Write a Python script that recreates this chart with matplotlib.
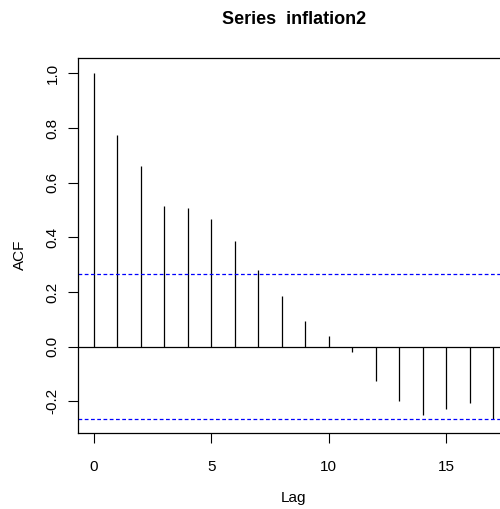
import matplotlib
matplotlib.use("Agg")
import matplotlib.pyplot as plt

plt.rcParams['font.family'] = ['Liberation Sans', 'DejaVu Sans']

# Sample autocorrelations of inflation2 by lag
lags = [0, 1, 2, 3, 4, 5, 6, 7, 8, 9, 10, 11, 12, 13, 14, 15, 16, 17]
acf = [1.0, 0.774, 0.662, 0.515, 0.506, 0.466, 0.387, 0.281, 0.185, 0.094,
       0.039, -0.018, -0.125, -0.198, -0.250, -0.229, -0.205, -0.264]
ci_bound = 0.266
xticks = [0, 5, 10, 15]
yticks = [-0.2, 0.0, 0.2, 0.4, 0.6, 0.8, 1.0]

W, H = 500, 509
fig = plt.figure(figsize=(W / 100, H / 100), dpi=100)
left, right, top, bottom = 77.7, 509.0, 58.3, 433.3
ax = fig.add_axes([left / W, 1 - bottom / H, (right - left) / W, (bottom - top) / H])

ax.vlines(lags, 0, acf, colors='black', linewidth=0.9)
ax.axhline(0, color='black', linewidth=0.9)
for b in (ci_bound, -ci_bound):
    ax.axhline(b, color='#0000ff', linewidth=0.9, linestyle=(0, (3, 2)))

ax.set_xlim(-0.68, 17.68)
ax.set_ylim(-0.317, 1.055)
ax.set_xticks(xticks)
ax.set_yticks(yticks)
ax.set_xticklabels([str(t) for t in xticks])
ax.set_yticklabels([f"{t:.1f}" for t in yticks], rotation=90, va='center')
ax.tick_params(axis='both', length=7, width=0.8, labelsize=11)
ax.tick_params(axis='x', pad=12)
ax.tick_params(axis='y', pad=6)
for s in ax.spines.values():
    s.set_linewidth(0.9)

fig.text(294 / W, 1 - 20 / H, "Series  inflation2", ha='center', va='center',
         fontsize=13, fontweight='bold')
fig.text(294 / W, 1 - 498 / H, "Lag", ha='center', va='center', fontsize=11)
fig.text(20 / W, 1 - 255 / H, "ACF", ha='center', va='center', fontsize=11,
         rotation=90)

fig.savefig("out.png", dpi=100)
